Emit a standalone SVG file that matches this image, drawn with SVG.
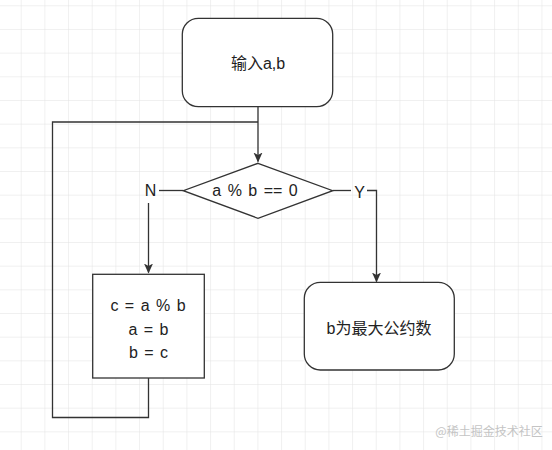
<svg xmlns="http://www.w3.org/2000/svg" width="552" height="450" viewBox="0 0 552 450">
<defs>
<pattern id="grid" x="20.7" y="5.3" width="23.67" height="23.67" patternUnits="userSpaceOnUse">
<path d="M0 0H23.67M0 0V23.67" fill="none" stroke="#e2e2e2" stroke-width="1"/>
</pattern>
<marker id="arr" viewBox="0 0 10 10" refX="9" refY="5" markerWidth="10" markerHeight="10" markerUnits="userSpaceOnUse" orient="auto">
<path d="M0 0.5L10 5L0 9.5L2.5 5Z" fill="#333"/>
</marker>
</defs>
<style>
.shape{fill:#fff;stroke:#333;stroke-width:1.3}
.edge{fill:none;stroke:#333;stroke-width:1.3}
text{font-family:"Liberation Sans","Noto Sans CJK SC",sans-serif;font-size:16px;fill:#222;text-anchor:middle;dominant-baseline:central;word-spacing:2px}
.wm{font-size:12px;fill:#c4c4c4;font-family:"Noto Sans CJK SC",sans-serif}
</style>
<rect width="552" height="450" fill="#fff"/>
<rect width="552" height="450" fill="url(#grid)"/>
<g id="edges">
<path class="edge" d="M258 107V161.5" marker-end="url(#arr)"/>
<path class="edge" d="M183.3 190.5H159"/>
<path class="edge" d="M148.5 203V272.5" marker-end="url(#arr)"/>
<path class="edge" d="M332.7 190.5H351"/>
<path class="edge" d="M367 190.5H376.5V281.5" marker-end="url(#arr)"/>
<path class="edge" d="M148.5 378V417.5H52.5V122H258"/>
<text x="150.5" y="190.5">N</text>
<text x="359.5" y="192">Y</text>
</g>
<g id="start">
<rect class="shape" x="182.3" y="18.3" width="150.4" height="88.4" rx="16" ry="16"/>
<text x="258" y="63">输入a,b</text>
</g>
<g id="decision">
<path class="shape" d="M258 163.3L332.7 190.7L258 218.3L183.3 190.7Z"/>
<text x="255" y="190.5">a % b == 0</text>
</g>
<g id="process">
<rect class="shape" x="92.7" y="274.3" width="111.6" height="103.7"/>
<text x="148" y="305">c = a % b</text>
<text x="148.5" y="329">a = b</text>
<text x="148.5" y="352.5">b = c</text>
</g>
<g id="end">
<rect class="shape" x="304.3" y="282.3" width="150" height="87.7" rx="16" ry="16"/>
<text x="379" y="328">b为最大公约数</text>
</g>
<text class="wm" x="489" y="430">@稀土掘金技术社区</text>
</svg>
